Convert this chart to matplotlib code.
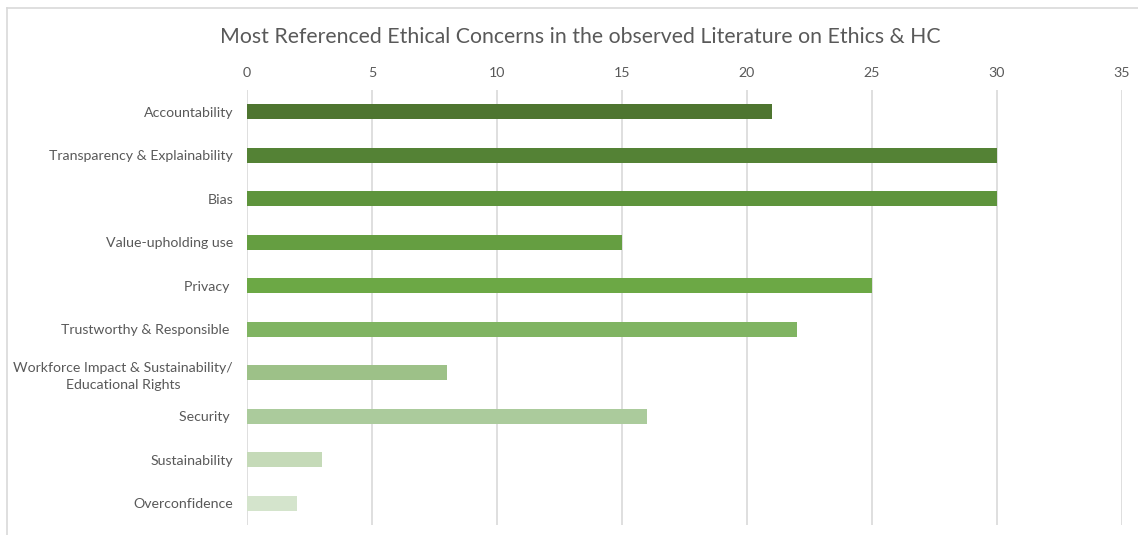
import matplotlib.pyplot as plt
from matplotlib.lines import Line2D

# data, top to bottom
concerns = [
    "Accountability",
    "Transparency & Explainability",
    "Bias",
    "Value-upholding use",
    "Privacy ",
    "Trustworthy & Responsible ",
    "Workforce Impact & Sustainability/\nEducational Rights",
    "Security ",
    "Sustainability",
    "Overconfidence",
]
counts = [21, 30, 30, 15, 25, 22, 8, 16, 3, 2]
bar_colors = ["#4E7530", "#548235", "#5E943C", "#659E41", "#6CA845",
              "#80B462", "#9DC188", "#ABCB9C", "#C5DAB8", "#D4E4CC"]
ticks = [0, 5, 10, 15, 20, 25, 30, 35]

plt.rcParams['font.family'] = ['Lato', 'DejaVu Sans']
txt = "#595959"

fig = plt.figure(figsize=(11.38, 5.35), dpi=100)
W, H = 1138, 535
ax = fig.add_axes([247 / W, 1 - 525 / H, (1122 - 247) / W, (525 - 90) / H])

ypos = list(range(len(concerns)))
ax.barh(ypos, counts, height=0.35, color=bar_colors, zorder=3)

ax.set_xlim(0, 35)
ax.set_ylim(len(concerns) - 0.5, -0.5)
ax.set_xticks(ticks)
ax.xaxis.tick_top()
ax.tick_params(axis='x', length=0, pad=8, labelsize=10.2, labelcolor=txt)
ax.set_yticks(ypos)
ax.set_yticklabels(concerns)
ax.tick_params(axis='y', length=0, pad=10, labelsize=10.2, labelcolor=txt)
for lab in ax.get_yticklabels():
    lab.set_horizontalalignment('right')
    lab.set_multialignment('center')
    lab.set_linespacing(1.55)

ax.grid(axis='x', color='#D9D9D9', linewidth=1.2, zorder=0)
for s in ax.spines.values():
    s.set_visible(False)

fig.text(580 / W, 1 - 37 / H, "Most Referenced Ethical Concerns in the observed Literature on Ethics & HC",
         ha='center', va='center', fontsize=15.3, color=txt)

# chart border (top and left edges visible)
fig.add_artist(Line2D([7 / W, 1.0], [1 - 8 / H, 1 - 8 / H], color='#D9D9D9', lw=1.2,
                      transform=fig.transFigure))
fig.add_artist(Line2D([7 / W, 7 / W], [0.0, 1 - 8 / H], color='#D9D9D9', lw=1.2,
                      transform=fig.transFigure))

fig.savefig("out.png", dpi=100)
